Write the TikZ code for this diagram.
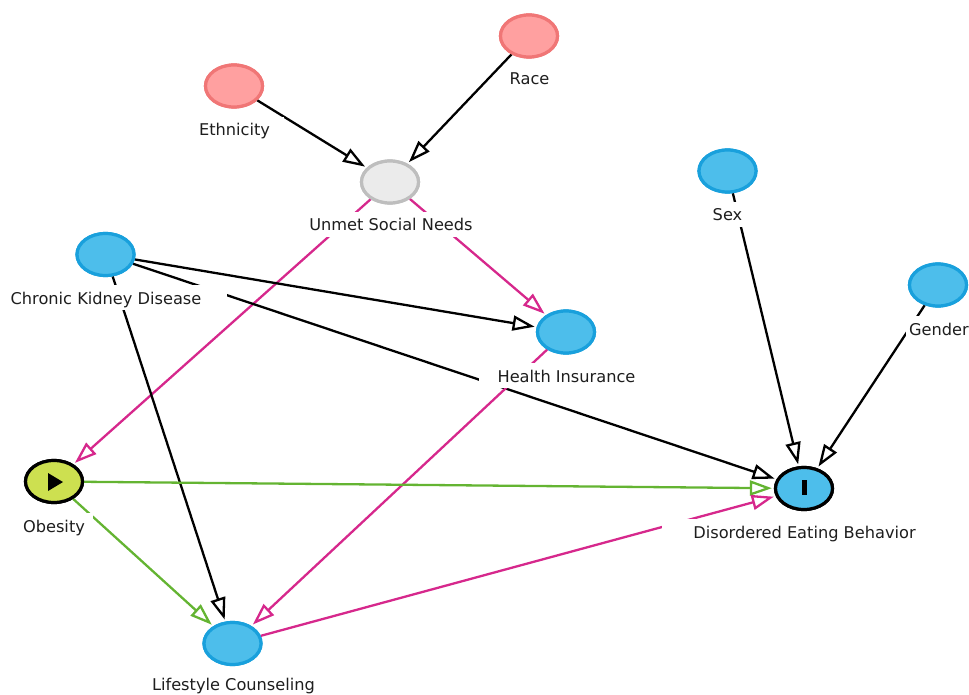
\documentclass[tikz,border=0pt]{standalone}
\usepackage{fontspec}
\setmainfont{DejaVu Sans}
\usetikzlibrary{arrows.meta,shapes.geometric}
\definecolor{pinkfill}{RGB}{255,160,160}
\definecolor{pinkline}{RGB}{240,118,118}
\definecolor{grayfill}{RGB}{235,235,235}
\definecolor{grayline}{RGB}{190,190,190}
\definecolor{bluefill}{RGB}{77,190,235}
\definecolor{blueline}{RGB}{25,160,220}
\definecolor{obfill}{RGB}{205,224,80}
\definecolor{edgepink}{RGB}{214,40,140}
\definecolor{edgegreen}{RGB}{100,180,50}
\definecolor{txt}{RGB}{30,30,30}
\tikzset{
  var/.style={ellipse, minimum width=57pt, minimum height=42pt, inner sep=0pt, line width=3.2pt},
  other/.style={var, fill=pinkfill, draw=pinkline},
  latent/.style={var, fill=grayfill, draw=grayline},
  plain/.style={var, fill=bluefill, draw=blueline},
  expo/.style={var, fill=obfill, draw=black},
  outc/.style={var, fill=bluefill, draw=black},
  lbl/.style={fill=white, anchor=base, inner xsep=0pt, inner ysep=5pt, text height=14pt, text depth=1pt, font=\fontsize{16.2pt}{18pt}\selectfont, text=txt},
  edge/.style={line width=2.3pt, shorten >=2pt, -{Triangle[open, length=22pt, width=15pt]}},
  blk/.style={edge, draw=black},
  pnk/.style={edge, draw=edgepink},
  grn/.style={edge, draw=edgegreen},
}
\begin{document}
\begin{tikzpicture}[x=1pt,y=-1pt]
\useasboundingbox (0,0) rectangle (969,695);
% nodes
\node[other]  (race) at (529,36) {};
\node[other]  (eth)  at (234,86) {};
\node[latent] (usn)  at (390,182) {};
\node[plain]  (ckd)  at (105.5,254.5) {};
\node[plain]  (hi)   at (566,332) {};
\node[plain]  (sex)  at (727.5,171) {};
\node[plain]  (gen)  at (938,285) {};
\node[expo]   (ob)   at (54,481.5) {};
\node[outc]   (deb)  at (804,488.5) {};
\node[plain]  (lc)   at (232.5,643.5) {};
% edges
\draw[blk] (eth) -- (usn);
\draw[blk] (race) -- (usn);
\draw[pnk] (usn) -- (ob);
\draw[pnk] (usn) -- (hi);
\draw[blk] (ckd) -- (hi);
\draw[blk] (ckd) -- (deb);
\draw[blk] (ckd) -- (lc);
\draw[pnk] (hi) -- (lc);
\draw[grn] (ob) -- (deb);
\draw[grn] (ob) -- (lc);
\draw[pnk] (lc) -- (deb);
\draw[blk] (sex) -- (deb);
\draw[blk] (gen) -- (deb);
% labels
\node[lbl, minimum width=44pt]  (lrace) at (529.5,85) {Race};
\node[lbl, minimum width=99pt]  (leth)  at (234.5,136) {Ethnicity};
\node[lbl, minimum width=198pt] (lusn)  at (391,231) {Unmet Social Needs};
\node[lbl, minimum width=242pt] (lckd)  at (106,304) {Chronic Kidney Disease};
\node[lbl, minimum width=176pt] (lhi)   at (566.5,382) {Health Insurance};
\node[lbl, minimum width=33pt]  (lsex)  at (727.5,221) {Sex};
\node[lbl, minimum width=66pt]  (lgen)  at (939,335) {Gender};
\node[lbl, minimum width=77pt]  (lob)   at (54,532) {Obesity};
\node[lbl, minimum width=286pt] (ldeb)  at (804.5,538) {Disordered Eating Behavior};
\node[lbl, minimum width=220pt] (llc)   at (233.5,690) {Lifestyle Counseling};
% redraw node shapes on top
\node[other]  at (race) {};
\node[other]  at (eth) {};
\node[latent] at (usn) {};
\node[plain]  at (ckd) {};
\node[plain]  at (hi) {};
\node[plain]  at (sex) {};
\node[plain]  at (gen) {};
\node[expo]   at (ob) {};
\node[outc]   at (deb) {};
\node[plain]  at (lc) {};
% icons
\fill[black] (48,473) -- (63,482) -- (48,491) -- cycle;
\fill[black] (802,480) rectangle (807,495);
\end{tikzpicture}
\end{document}
